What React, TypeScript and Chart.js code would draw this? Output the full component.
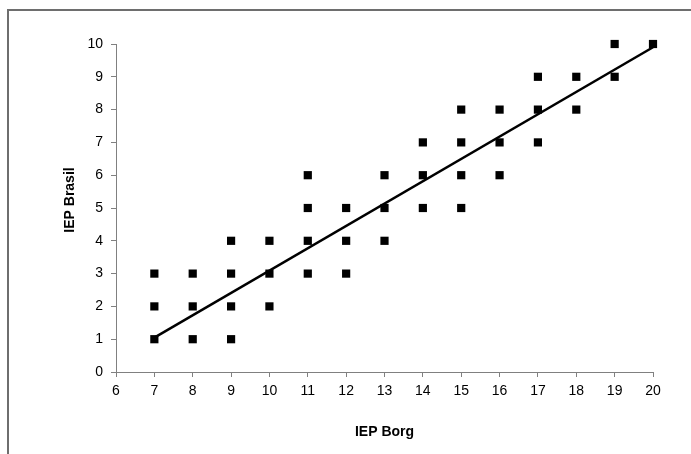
import React, { useEffect, useRef } from "react";
import { Chart, registerables } from "chart.js";

Chart.register(...registerables);

const borgValues = [7, 7, 7, 8, 8, 8, 9, 9, 9, 9, 10, 10, 10, 11, 11, 11, 11, 12, 12, 12, 13, 13, 13, 14, 14, 14, 15, 15, 15, 15, 16, 16, 16, 17, 17, 17, 18, 18, 19, 19, 20];
const brasilValues = [1, 2, 3, 1, 2, 3, 1, 2, 3, 4, 2, 3, 4, 3, 4, 5, 6, 3, 4, 5, 4, 5, 6, 5, 6, 7, 5, 6, 7, 8, 6, 7, 8, 7, 8, 9, 8, 9, 9, 10, 10];
const trendX = [7, 20];
const trendY = [1.05, 9.9];
const xTitle = "IEP Borg";
const yTitle = "IEP Brasil";

const FONT = "'Liberation Sans', Arial, sans-serif";

export default function App() {
  const ref = useRef<HTMLCanvasElement | null>(null);

  useEffect(() => {
    if (!ref.current) return;
    const titlePlugin = {
      id: "axisTitles",
      afterDraw(chart: any) {
        const ctx = chart.ctx;
        const area = chart.chartArea;
        ctx.save();
        ctx.fillStyle = "#000";
        ctx.font = `bold 14px ${FONT}`;
        ctx.textAlign = "center";
        ctx.textBaseline = "middle";
        ctx.fillText(xTitle, (area.left + area.right) / 2, 432);
        ctx.translate(70, 200);
        ctx.rotate(-Math.PI / 2);
        ctx.fillText(yTitle, 0, 0);
        ctx.restore();
      },
    };
    const chart = new Chart(ref.current, {
      type: "scatter",
      data: {
        datasets: [
          {
            type: "line",
            data: trendX.map((x, i) => ({ x, y: trendY[i] })),
            borderColor: "#000",
            borderWidth: 2.5,
            pointRadius: 0,
            fill: false,
            clip: false,
          } as any,
          {
            data: borgValues.map((x, i) => ({ x, y: brasilValues[i] })),
            pointStyle: "rect",
            pointRadius: 5.8,
            backgroundColor: "#000",
            borderColor: "#000",
            borderWidth: 0,
            clip: false,
          } as any,
        ],
      },
      plugins: [titlePlugin],
      options: {
        animation: false,
        responsive: false,
        maintainAspectRatio: false,
        layout: { padding: { left: 58, right: 38, top: 44, bottom: 52 } },
        plugins: { legend: { display: false }, tooltip: { enabled: false } },
        scales: {
          x: {
            type: "linear",
            min: 6,
            max: 20,
            afterFit(scale: any) {
              scale.height = 30;
            },
            ticks: { stepSize: 1, color: "#000", font: { family: FONT, size: 14 }, padding: 6, maxRotation: 0 },
            grid: { drawOnChartArea: false, drawTicks: true, tickLength: 5, color: "#808080" },
            border: { color: "#808080", width: 1 },
          },
          y: {
            type: "linear",
            min: 0,
            max: 10,
            afterFit(scale: any) {
              scale.width = 58;
            },
            ticks: { stepSize: 1, color: "#000", font: { family: FONT, size: 14 }, padding: 8 },
            grid: { drawOnChartArea: false, drawTicks: true, tickLength: 5, color: "#808080" },
            border: { color: "#808080", width: 1 },
          },
        },
      },
    });
    return () => chart.destroy();
  }, []);

  return (
    <div style={{ position: "absolute", left: 0, top: 0, width: 691, height: 454, background: "#fff", overflow: "hidden" }}>
      <div
        style={{
          position: "absolute",
          left: 7,
          top: 9,
          width: 700,
          height: 500,
          borderTop: "2px solid #6e6e6e",
          borderLeft: "2px solid #6e6e6e",
        }}
      />
      <canvas ref={ref} width={691} height={454} style={{ position: "absolute", left: 0, top: 0, width: 691, height: 454 }} />
    </div>
  );
}
